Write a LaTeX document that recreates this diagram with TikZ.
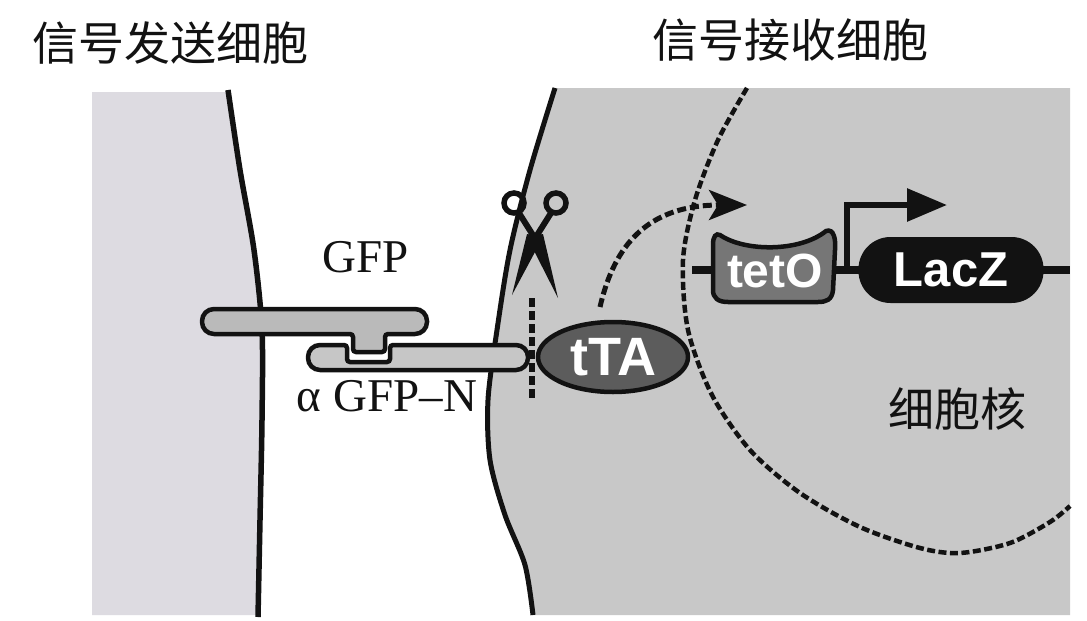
\documentclass[tikz,border=0pt]{standalone}
\usepackage{fontspec}
\setmainfont{Liberation Serif}
\setsansfont{Liberation Sans}
\newfontfamily\cjk{Noto Sans CJK SC}
\usetikzlibrary{arrows.meta,shapes.geometric,calc}

\definecolor{sendgray}{RGB}{221,219,225}
\definecolor{recvgray}{RGB}{200,200,200}
\definecolor{gfpgray}{RGB}{186,186,186}
\definecolor{abgray}{RGB}{198,198,198}
\definecolor{ttagray}{RGB}{92,92,92}
\definecolor{tetogray}{RGB}{118,118,118}
\definecolor{ink}{RGB}{18,18,18}

\begin{document}
\begin{tikzpicture}[x=1pt,y=-1pt,
  title/.style={font=\cjk\fontsize{46pt}{46pt}\selectfont, text=ink, inner sep=0pt},
  seriflabel/.style={font=\fontsize{47pt}{47pt}\selectfont, text=ink, inner sep=0pt},
  genetext/.style={font=\sffamily\bfseries\fontsize{48pt}{48pt}\selectfont, text=white, inner sep=0pt},
  membrane/.style={line width=5.5pt, draw=ink},
  nucleusline/.style={line width=4.5pt, draw=ink, dash pattern=on 8pt off 3.5pt},
  protein/.style={line width=4.5pt, draw=ink, fill=gfpgray},
  dna/.style={line width=8pt, draw=ink},
]
\useasboundingbox (0,0) rectangle (1087,621);
\fill[white] (0,0) rectangle (1087,621);

% sending cell: pale panel bounded by its membrane
\fill[sendgray] (92,92) -- plot[smooth] coordinates {(228,92) (240,170) (254,250) (262,330) (262,420) (260,520) (258,615)} -- (92,615) -- cycle;
% receiving cell: grey region right of its membrane
\fill[recvgray] plot[smooth] coordinates {(555,88) (530,170) (510,250) (497,330) (488,400) (490,460) (505,515) (525,565) (533,615)} -- (1070,615) -- (1070,88) -- cycle;

% membranes
\draw[membrane] plot[smooth] coordinates {(228,90) (240,170) (254,250) (262,330) (262,420) (260,520) (258,617)};
\draw[membrane, line width=5pt] plot[smooth] coordinates {(555,88) (530,170) (510,250) (497,330) (488,400) (490,460) (505,515) (525,565) (533,615)};

% nuclear envelope
\draw[nucleusline] plot[smooth] coordinates {(747,88) (718,140) (695,200) (683,260) (688,330) (712,395) (750,450) (800,493) (860,527) (920,548) (960,553) (1010,543) (1050,522) (1070,506)};

% named points
\coordinate (dnaL) at (692,270);
\coordinate (dnaR) at (1070,270);
\coordinate (prom) at (847,270);
\coordinate (promtip) at (947,205);
\coordinate (arrS) at (600,307);
\coordinate (arrE) at (747,205);
\coordinate (cutT) at (532,298);
\coordinate (cutB) at (532,400);

% DNA strand
\draw[dna] (dnaL) -- (dnaR);

% GFP on the sending cell
\draw[protein, rounded corners=12pt] (202,309) -- (427,309) -- (427,334) [rounded corners=3pt] -- (385,334) -- (385,352) -- (353,352) -- (353,334) [rounded corners=12pt] -- (202,334) -- cycle;

% anti-GFP nanobody receptor
\draw[protein, fill=abgray, rounded corners=12pt] (308,345) [rounded corners=3pt] -- (347,345) -- (347,362) -- (390,362) -- (390,345) [rounded corners=12pt] -- (528,345) -- (528,370) -- (308,370) -- cycle;

% cleavage site
\draw[line width=5.5pt, draw=ink, dash pattern=on 9pt off 4pt] (cutT) -- (cutB);

% scissors
\draw[line width=5.5pt, draw=ink] (514,203) circle[radius=10];
\draw[line width=5.5pt, draw=ink] (556,203) circle[radius=10];
\draw[line width=6pt, draw=ink] (519,213) -- (536,240);
\draw[line width=6pt, draw=ink] (551,213) -- (534,240);
\fill[ink] (527,237) -- (543,234) -- (558,298) -- cycle;
\fill[ink] (543,237) -- (527,234) -- (512,295) -- cycle;

% transcription activator
\node[ellipse, draw=ink, line width=4.5pt, fill=ttagray, minimum width=150pt, minimum height=70pt, genetext, font=\sffamily\bfseries\fontsize{54pt}{54pt}\selectfont] (tta) at (613,357) {\raisebox{-6pt}{tTA}};

% operator element
\draw[line width=4.5pt, draw=ink, fill=tetogray]
  (720,235) .. controls (745,252) and (800,252) .. (826,231)
  .. controls (834,228) and (836,240) .. (835,250)
  -- (833,290) .. controls (832,300) and (826,302) .. (818,302)
  -- (728,302) .. controls (718,302) and (713,298) .. (713,290)
  -- (713,245) .. controls (713,236) and (716,233) .. (720,235) -- cycle;
\node[genetext] (teto) at (775,271) {tetO};

% reporter gene
\node[draw=ink, fill=ink, line width=2pt, rounded corners=31pt, minimum width=183pt, minimum height=64pt, genetext, font=\sffamily\bfseries\fontsize{49pt}{49pt}\selectfont] (lacz) at (951,270) {\raisebox{-2pt}{LacZ}};

% promoter arrow
\draw[line width=6pt, draw=ink, -{Triangle[length=40pt,width=32pt]}] (prom) |- (promtip);

% tTA moving into the nucleus
\draw[line width=5pt, draw=ink, dash pattern=on 9pt off 4pt, -{Stealth[length=38pt,width=30pt,inset=9pt]}] (arrS) .. controls (612,255) and (640,205) .. (arrE);

% labels
\node[title] (sender) at (170,43) {信号发送细胞};
\node[title] (receiver) at (790,40) {信号接收细胞};
\node[title] (nucleus) at (957,409) {细胞核};
\node[seriflabel] (gfp) at (366,257) {GFP};
\node[seriflabel] (agfp) at (387,396) {α GFP–N};
\end{tikzpicture}
\end{document}
